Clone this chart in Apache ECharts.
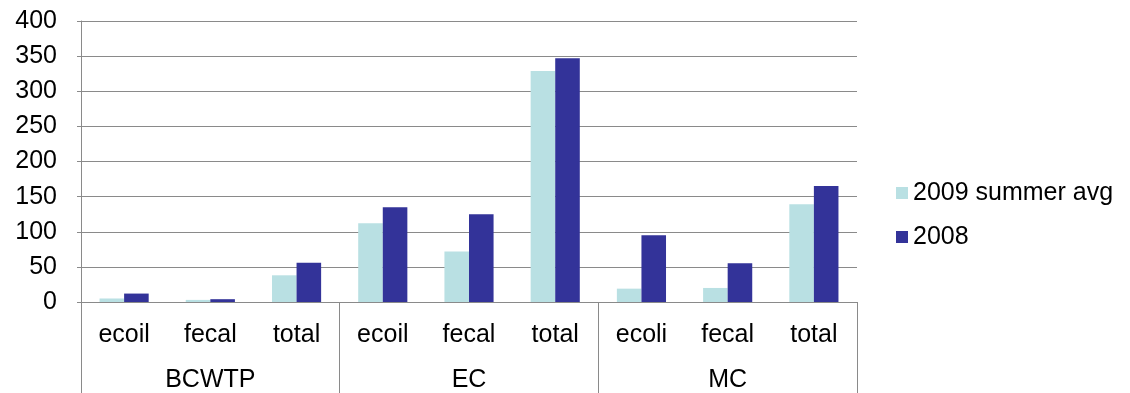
<!DOCTYPE html>
<html>
<head>
<meta charset="utf-8">
<script src="https://cdn.jsdelivr.net/npm/echarts@6/dist/echarts.min.js"></script>
<style>
  html, body { margin: 0; padding: 0; background: #fff; }
  #chart { width: 1130px; height: 393px; }
</style>
</head>
<body>
<div id="chart"></div>
<script>
// Bacteria counts by site and measure
const sites = ['BCWTP', 'EC', 'MC'];
const measures = ['ecoil', 'fecal', 'total', 'ecoil', 'fecal', 'total', 'ecoli', 'fecal', 'total'];
const summer2009 = [5, 3, 38, 112, 72, 329, 19, 20, 139];
const year2008 = [12, 4, 56, 135, 125, 347, 95, 55, 165];
const yTicks = { min: 0, max: 400, interval: 50 };

const FONT = 'Liberation Sans, Arial, sans-serif';
const FS = 25;
const GRAY = '#8a8a8a';

const chart = echarts.init(document.getElementById('chart'), null, { renderer: 'canvas' });
chart.setOption({
  animation: false,
  textStyle: { fontFamily: FONT },
  grid: { left: 81, right: 273, top: 21, bottom: 91, containLabel: false, outerBoundsMode: 'none' },
  legend: {
    orient: 'vertical',
    left: 891,
    top: 175,
    icon: 'rect',
    itemWidth: 12,
    itemHeight: 12,
    itemGap: 18,
    textStyle: { fontSize: FS, lineHeight: 26, color: '#000', fontFamily: FONT },
    data: ['2009 summer avg', '2008']
  },
  xAxis: [
    {
      type: 'category',
      data: measures,
      position: 'bottom',
      axisLine: { show: true, lineStyle: { color: GRAY, width: 1 } },
      axisTick: { show: false },
      axisLabel: { fontSize: FS, color: '#000', fontFamily: FONT, margin: 21, lineHeight: 24, interval: 0 },
      splitLine: { show: false }
    },
    {
      type: 'category',
      data: sites,
      position: 'bottom',
      axisLine: { show: false },
      axisTick: { show: true, length: 91, lineStyle: { color: GRAY, width: 1 } },
      axisLabel: { fontSize: FS, color: '#000', fontFamily: FONT, margin: 68, lineHeight: 20, interval: 0 },
      splitLine: { show: false }
    }
  ],
  yAxis: {
    type: 'value',
    min: yTicks.min,
    max: yTicks.max,
    interval: yTicks.interval,
    axisLine: { show: true, lineStyle: { color: GRAY, width: 1 } },
    axisTick: { show: true, length: 4, lineStyle: { color: GRAY } },
    axisLabel: { fontSize: FS, color: '#000', fontFamily: FONT, margin: 24 },
    splitLine: { show: true, lineStyle: { color: GRAY, width: 1 } }
  },
  series: [
    {
      name: '2009 summer avg',
      type: 'bar',
      xAxisIndex: 0,
      data: summer2009,
      barGap: '0%',
      barCategoryGap: '43%',
      itemStyle: { color: '#b9e0e3' }
    },
    {
      name: '2008',
      type: 'bar',
      xAxisIndex: 0,
      data: year2008,
      barGap: '0%',
      barCategoryGap: '43%',
      itemStyle: { color: '#333399' }
    }
  ]
});
</script>
</body>
</html>
